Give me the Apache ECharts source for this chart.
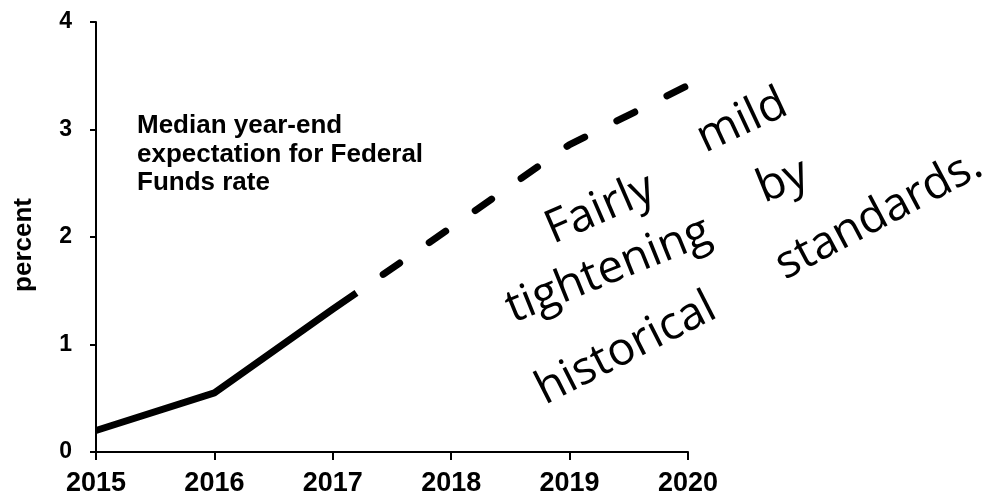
<!DOCTYPE html>
<html>
<head>
<meta charset="utf-8">
<script src="https://cdn.jsdelivr.net/npm/echarts@6/dist/echarts.min.js"></script>
<style>
html,body{margin:0;padding:0;background:#fff;}
#chart{width:989px;height:497px;}
</style>
</head>
<body>
<div id="chart"></div>
<script>
// Data
const solidYears = [2015, 2016, 2017, 2017.2];
const solidValues = [0.2, 0.55, 1.33, 1.48];
const dashedYears = [2017.2, 2018, 2019, 2020];
const dashedValues = [1.48, 2.09, 2.86, 3.41];
const xTicks = [2015, 2016, 2017, 2018, 2019, 2020];
const yTicks = [0, 1, 2, 3, 4];
const yAxisName = 'percent';
const noteLines = ['Median year-end', 'expectation for Federal', 'Funds rate'];
const handWords = [
  {t: 'Fairly', x: 553, y: 244, r: 23.5},
  {t: 'mild', x: 705, y: 153, r: 25},
  {t: 'tightening', x: 513, y: 323, r: 22},
  {t: 'by', x: 764, y: 203, r: 22},
  {t: 'historical', x: 545, y: 405, r: 27},
  {t: 'standards.', x: 785, y: 280, r: 28}
];

const chart = echarts.init(document.getElementById('chart'), null, {renderer: 'canvas'});
const boldFont = 'Liberation Sans, Arial, sans-serif';

const option = {
  backgroundColor: '#ffffff',
  animation: false,
  grid: {left: 96, right: 301, top: 22, bottom: 45},
  xAxis: {
    type: 'value',
    min: xTicks[0],
    max: xTicks[xTicks.length - 1],
    interval: 1,
    axisLine: {show: true, onZero: false, lineStyle: {color: '#000', width: 2}},
    axisTick: {show: true, length: 8, lineStyle: {color: '#000', width: 2}},
    axisLabel: {color: '#000', fontFamily: boldFont, fontWeight: 'bold', fontSize: 27, margin: 18,
      formatter: v => String(v)},
    splitLine: {show: false}
  },
  yAxis: {
    type: 'value',
    min: yTicks[0],
    max: yTicks[yTicks.length - 1],
    interval: 1,
    axisLine: {show: true, lineStyle: {color: '#000', width: 2}},
    axisTick: {show: true, length: 6, lineStyle: {color: '#000', width: 2}},
    axisLabel: {color: '#000', fontFamily: boldFont, fontWeight: 'bold', fontSize: 23, margin: 24},
    splitLine: {show: false}
  },
  series: [
    {
      type: 'line',
      data: solidYears.map((x, i) => [x, solidValues[i]]),
      showSymbol: false,
      symbol: 'none',
      lineStyle: {color: '#000', width: 7, cap: 'butt', join: 'round'}
    },
    {
      type: 'line',
      data: dashedYears.map((x, i) => [x, dashedValues[i]]),
      showSymbol: false,
      symbol: 'none',
      lineStyle: {color: '#000', width: 7, type: [20, 36], dashOffset: 23.5, cap: 'round', join: 'round'}
    }
  ],
  graphic: [
    {
      type: 'text',
      left: 137,
      top: 112,
      style: {
        text: noteLines.join('\n'),
        font: 'bold 26px ' + boldFont,
        fill: '#000',
        lineHeight: 28.5
      }
    },
    {
      type: 'text',
      x: 24,
      y: 245,
      rotation: Math.PI / 2,
      style: {
        text: yAxisName,
        x: 0,
        y: 0,
        font: 'bold 26px ' + boldFont,
        fill: '#000',
        textAlign: 'center',
        textVerticalAlign: 'middle'
      }
    }
  ].concat(handWords.map(w => ({
    type: 'text',
    x: w.x,
    y: w.y,
    rotation: w.r * Math.PI / 180,
    style: {
      text: w.t,
      x: 0,
      y: 10,
      fill: '#000',
      font: '400 46px "Open Sans", "DejaVu Sans", sans-serif',
      textAlign: 'left',
      textVerticalAlign: 'bottom'
    }
  })))
};
chart.setOption(option);
</script>
</body>
</html>
